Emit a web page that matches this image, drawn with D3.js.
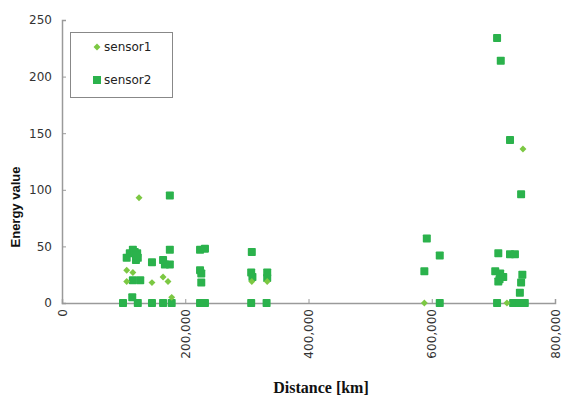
<!DOCTYPE html>
<html><head><meta charset="utf-8">
<script src="https://cdn.jsdelivr.net/npm/d3@7"></script>
<style>body{margin:0;background:#fff}</style>
</head><body><svg id="c" width="563" height="398"></svg>
<script>
// distance (km), energy value
const sensor1Dist = [125000,105000,115000,105000,146000,164000,172000,178000,
  308000,333000,588000,748000,722000];
const sensor1Val  = [93,29,27,19,18,23,19,5,
  19,19,0,136,0];
const sensor2Dist = [175000,105000,115000,122000,123000,146000,164000,175000,175000,167000,
  115000,127000,99000,114000,123000,146000,164000,178000,
  110000,118000,120000,121000,
  224000,232000,224000,226000,226000,224000,232000,
  308000,307000,309000,333000,333000,307000,332000,
  592000,588000,613000,613000,
  706000,712000,727000,745000,708000,727000,735000,711000,716000,708000,747000,745000,743000,706000,732000,743000,751000,
  703000,710000];
const sensor2Val  = [95,40,47,44,40,36,38,47,34,34,
  20,20,0,5,0,0,0,0,
  44,45,38,42,
  47,48,29,26,18,0,0,
  45,27,23,27,22,0,0,
  57,28,42,0,
  234,214,144,96,44,43,43,26,23,19,25,18,9,0,0,0,0,
  28,21];
const xTicks = [0,200000,400000,600000,800000];
const yTicks = [0,50,100,150,200,250];
const seriesNames = ["sensor1","sensor2"];

const svg = d3.select("#c");
const x = d3.scaleLinear().domain([0,800000]).range([62,555]);
const y = d3.scaleLinear().domain([0,250]).range([303,20]);
const c1 = "#7cc843", c2 = "#2bb24c";
const axisCol = "#9a9a9a";

// axes
const xa = svg.append("g").attr("transform","translate(0,303)")
  .call(d3.axisBottom(x).tickValues(xTicks).tickSize(-4).tickFormat(d3.format(",")));
xa.selectAll("text").attr("font-family","DejaVu Sans").attr("font-size",12).attr("fill","#333")
  .attr("text-anchor","end").attr("transform","translate(0,6) rotate(-90)")
  .attr("x",0).attr("y",0).attr("dy","0.35em");
const ya = svg.append("g").attr("transform","translate(62,0)")
  .call(d3.axisLeft(y).tickValues(yTicks).tickSize(-4).tickPadding(10));
ya.selectAll("text").attr("font-family","DejaVu Sans").attr("font-size",12).attr("fill","#333");
svg.selectAll(".domain").attr("stroke",axisCol).attr("stroke-width",1.5);
svg.selectAll(".tick line").attr("stroke",axisCol);

// points
const s2 = sensor2Dist.map((d,i)=>({d,v:sensor2Val[i]}));
const s1 = sensor1Dist.map((d,i)=>({d,v:sensor1Val[i]}));
svg.append("g").selectAll("rect").data(s2).join("rect")
  .attr("x",p=>x(p.d)-4).attr("y",p=>y(p.v)-4).attr("width",8).attr("height",8)
  .attr("rx",0.8).attr("fill",c2);
const diamond = d3.symbol().type(d3.symbolSquare).size(24);
svg.append("g").selectAll("path").data(s1).join("path")
  .attr("transform",p=>`translate(${x(p.d)},${y(p.v)}) rotate(45)`).attr("d",diamond).attr("fill",c1);

// legend
const lg = svg.append("g");
lg.append("rect").attr("x",70.5).attr("y",32.5).attr("width",102).attr("height",65)
  .attr("fill","#fff").attr("stroke","#888").attr("stroke-width",1);
lg.append("path").attr("transform","translate(97,47) rotate(45)").attr("d",diamond).attr("fill",c1);
lg.append("rect").attr("x",93).attr("y",76).attr("width",8).attr("height",8).attr("fill",c2);
lg.selectAll("text").data(seriesNames).join("text")
  .attr("x",104).attr("y",(d,i)=>51+i*33).text(d=>d)
  .attr("font-family","DejaVu Sans").attr("font-size",12).attr("fill","#222");

// axis titles
svg.append("text").attr("x",321).attr("y",393).attr("text-anchor","middle")
  .attr("font-family","Liberation Serif").attr("font-weight","bold").attr("font-size",16)
  .attr("fill","#111").text("Distance [km]");
svg.append("text").attr("transform","translate(20,207) rotate(-90)").attr("text-anchor","middle")
  .attr("font-family","Liberation Sans").attr("font-weight","bold").attr("font-size",13)
  .attr("fill","#111").text("Energy value");
</script></body></html>
